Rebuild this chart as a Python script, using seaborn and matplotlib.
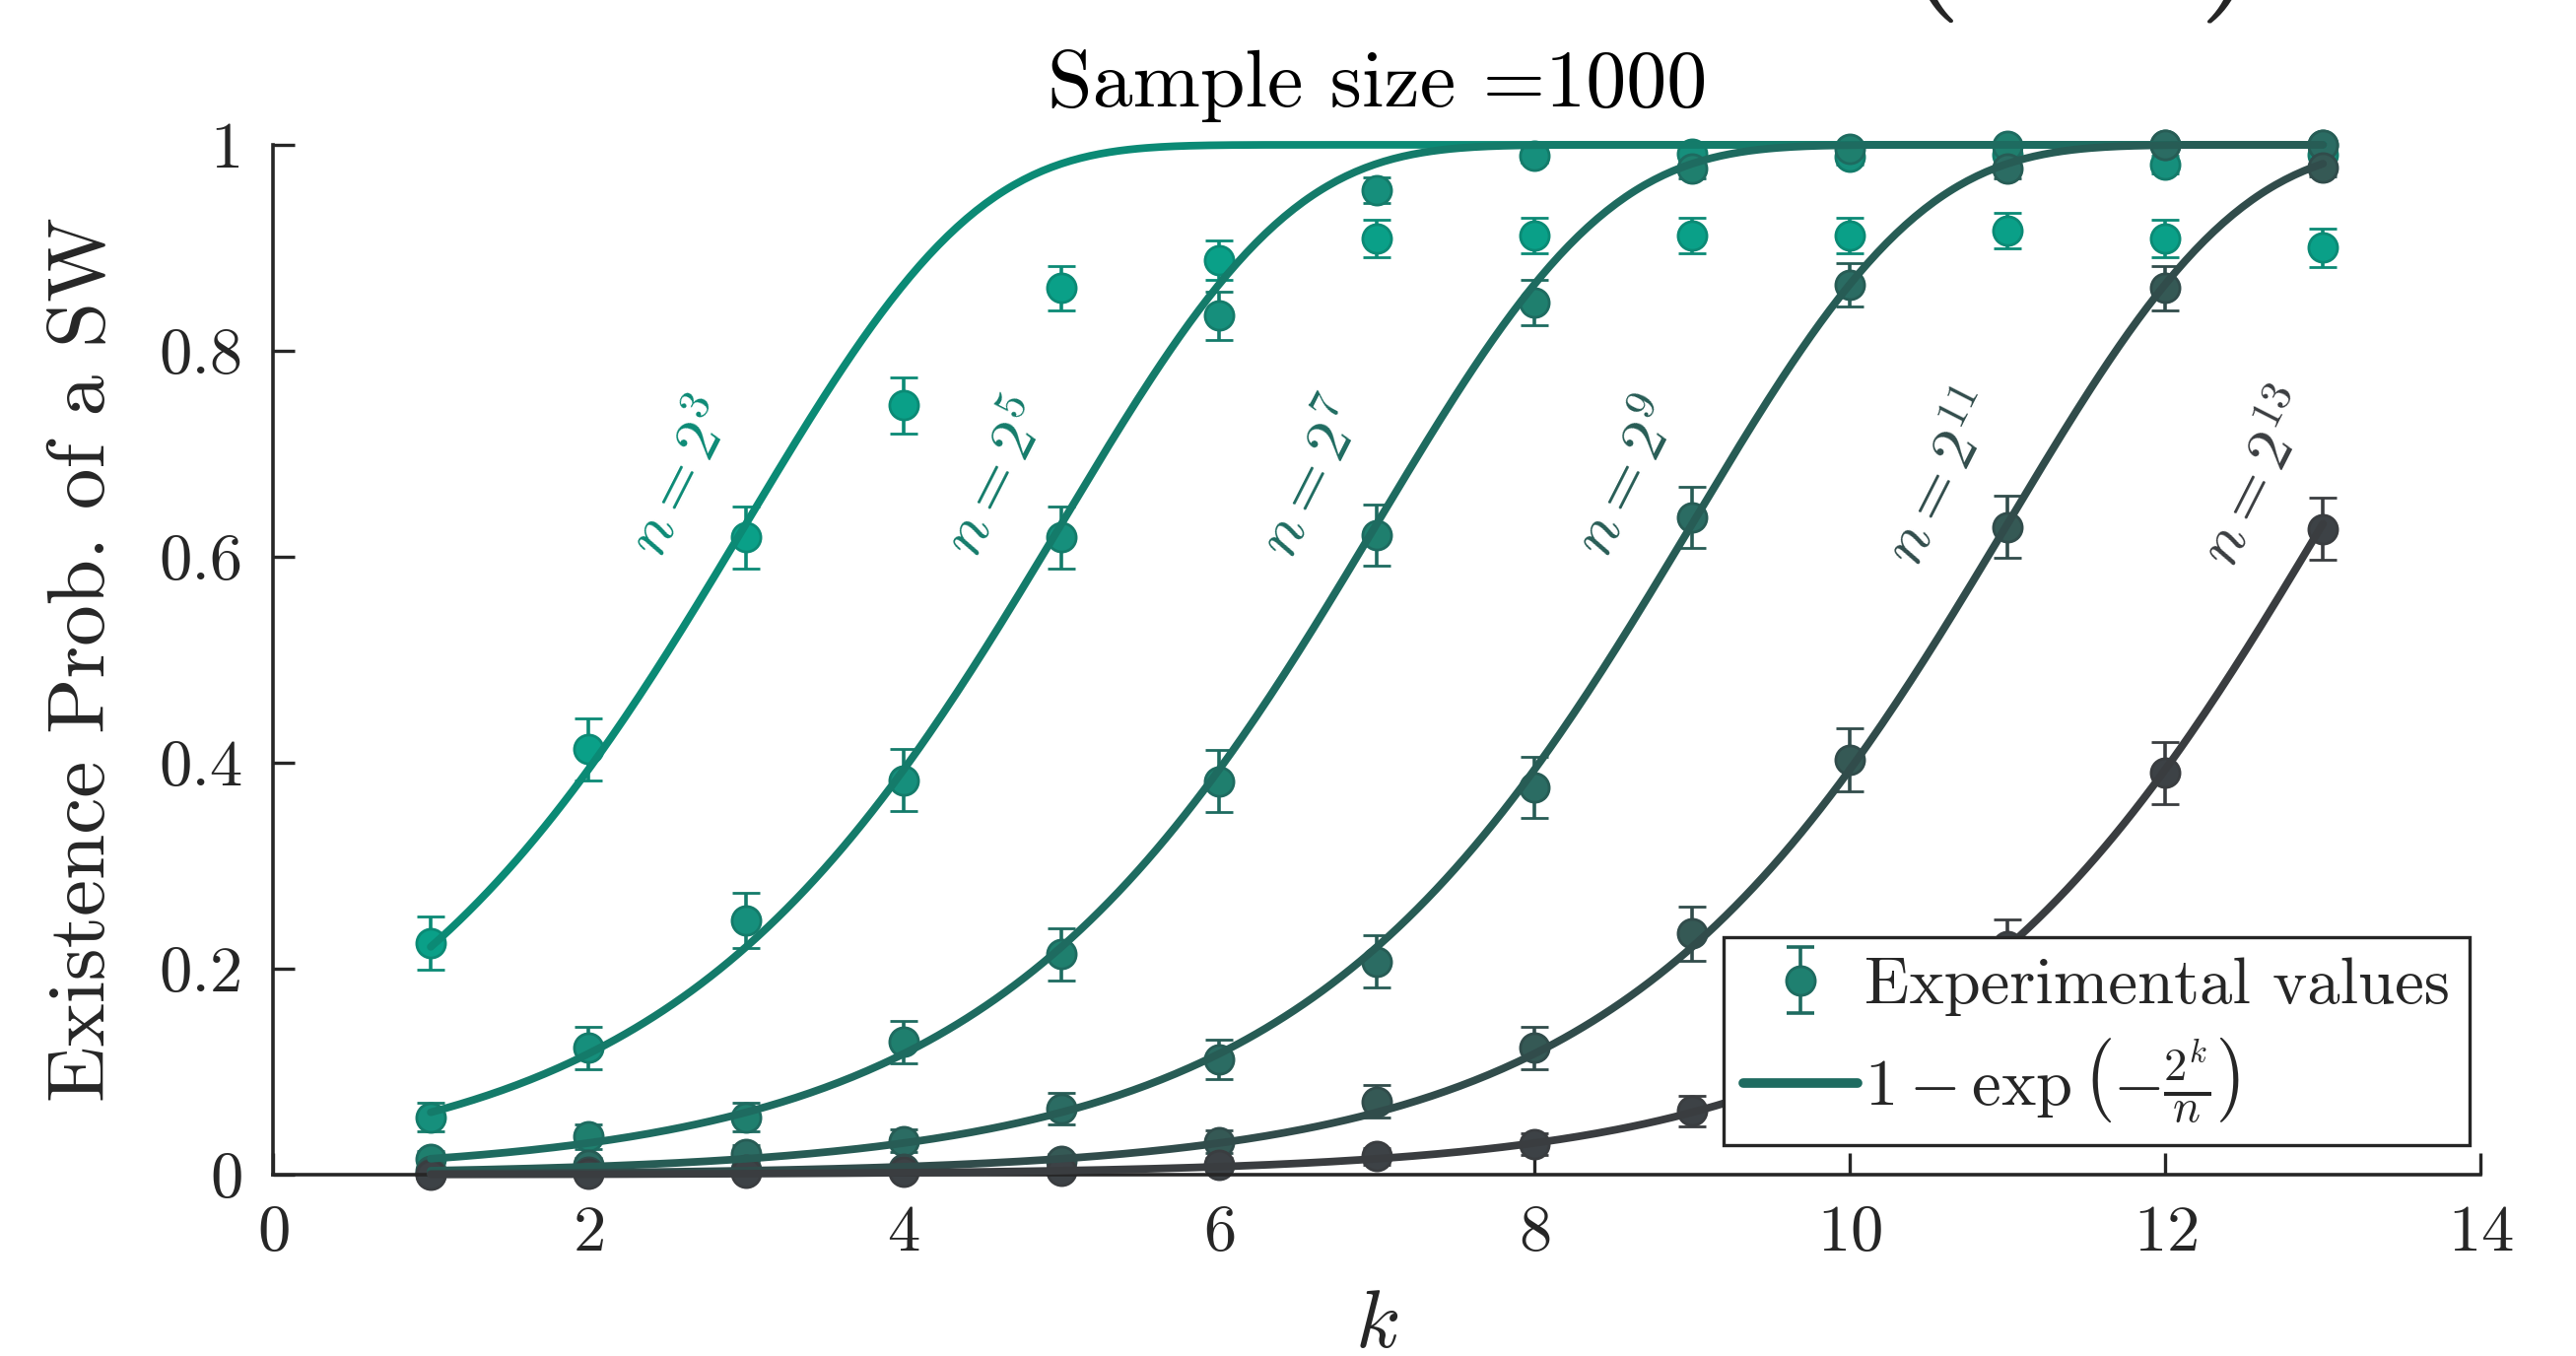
import numpy as np
import pandas as pd
import seaborn as sns
import matplotlib
matplotlib.use('Agg')
import matplotlib.pyplot as plt
from matplotlib.lines import Line2D

k_vals      = np.arange(1, 14)
n_exps      = [3, 5, 7, 9, 11, 13]
p_n8        = [0.225, 0.413, 0.619, 0.747, 0.861, 0.888, 0.909, 0.912, 0.912, 0.912, 0.917, 0.909, 0.900]
p_n32       = [0.056, 0.123, 0.247, 0.383, 0.619, 0.834, 0.956, 0.989, 0.991, 0.988, 0.990, 0.981, 0.990]
p_n128      = [0.015, 0.037, 0.056, 0.129, 0.214, 0.382, 0.621, 0.847, 0.977, 0.996, 0.999, 1.000, 1.000]
p_n512      = [0.004, 0.010, 0.020, 0.033, 0.064, 0.112, 0.207, 0.376, 0.638, 0.864, 0.977, 1.000, 1.000]
p_n2048     = [0.001, 0.003, 0.005, 0.006, 0.013, 0.032, 0.071, 0.123, 0.234, 0.403, 0.629, 0.861, 0.978]
p_n8192     = [0.000, 0.001, 0.002, 0.003, 0.004, 0.010, 0.018, 0.030, 0.062, 0.119, 0.222, 0.390, 0.627]
sample_size = 1000

exp_values  = [p_n8, p_n32, p_n128, p_n512, p_n2048, p_n8192]

line_colors = ['#0b8a75', '#147b6a', '#1e6b60', '#275c55', '#314c4b', '#3a3d40']
dot_colors  = ['#0aa088', '#168f7c', '#1f7f6e', '#2b6c63', '#355955', '#3d4246']

sns.set_theme(style='ticks')
plt.rcParams['font.family']        = ['serif']
plt.rcParams['font.serif']         = ['cmr10']
plt.rcParams['mathtext.fontset']   = 'cm'
plt.rcParams['axes.unicode_minus'] = False
plt.rcParams['axes.formatter.use_mathtext'] = True

fig = plt.figure(figsize=(13.07, 6.88), dpi=200)
ax  = fig.add_axes([0.106, 0.1337, 0.857, 0.7595])

# experimental points with 95% binomial intervals
for i, p in enumerate(exp_values):
    p   = np.array(p)
    err = 1.96 * np.sqrt(p * (1 - p) / sample_size)
    eb  = ax.errorbar(k_vals, p, yerr=err, fmt='o', ms=10.5, mfc=dot_colors[i], mec=line_colors[i], mew=1,
                      ecolor=line_colors[i], elinewidth=1.3, capsize=5, capthick=1.3, zorder=2 + i * 0.01)
    for art in eb.get_children():
        art.set_clip_on(False)

# theoretical curves 1 - exp(-2^k / n)
k_fine = np.linspace(1, 13, 400)
curves = []
for e in n_exps:
    curves.append(pd.DataFrame({'k': k_fine, 'p': 1 - np.exp(-2.0 ** k_fine / 2.0 ** e), 'n': e}))
df = pd.concat(curves, ignore_index=True)
sns.lineplot(data=df, x='k', y='p', hue='n', palette=dict(zip(n_exps, line_colors)),
             linewidth=2.8, legend=False, ax=ax, zorder=3)
for ln in ax.lines:
    ln.set_clip_on(False)

for i, e in enumerate(n_exps):
    ax.text(2.6 + 2 * i, 0.675, f'$n = 2^{{{e}}}$', rotation=63, color=line_colors[i], fontsize=23,
            ha='center', va='center', rotation_mode='anchor')

ax.set_xlim(0, 14)
ax.set_ylim(0, 1)
ax.set_xticks(np.arange(0, 15, 2))
ax.set_yticks([0, 0.2, 0.4, 0.6, 0.8, 1])
ax.set_yticklabels(['0', '0.2', '0.4', '0.6', '0.8', '1'])
ax.tick_params(direction='in', length=8, width=1.2, labelsize=24, pad=11, colors='#262626')
sns.despine(ax=ax)
for s in ['left', 'bottom']:
    ax.spines[s].set_linewidth(1.3)
    ax.spines[s].set_color('#262626')

ax.set_ylabel('Existence Prob. of a SW', fontsize=30, labelpad=14, color='#262626')
ax.set_xlabel('$k$', fontsize=30, labelpad=10, color='#262626')
ax.set_title('Sample size =1000', fontsize=29.5, pad=14, color='black')

# legend proxies
h_exp = ax.errorbar([np.nan], [np.nan], yerr=[np.nan], fmt='o', ms=10.5, mfc='#1f8070', mec='#1e6b60',
                    ecolor='#1e6b60', elinewidth=1.3, capsize=5, capthick=1.3)
h_fit = Line2D([], [], color='#1e6b60', linewidth=3.5)
leg = ax.legend(handles=[h_exp, h_fit],
                labels=['Experimental values', r'$1-\exp\left(-\frac{2^k}{n}\right)$'],
                loc='lower right', bbox_to_anchor=(0.995, 0.029), borderaxespad=0, fontsize=24,
                frameon=True, fancybox=False, framealpha=1, edgecolor='#262626',
                handlelength=1.75, handletextpad=0.1, borderpad=0.3, labelspacing=0.3)
leg.get_frame().set_linewidth(1.2)
leg.set_zorder(10)

# bottom tips of a larger heading that is cut off by the top edge
fig.text(1952 / 2614, 1 - 25 / 1376, '$($', fontsize=64, ha='center', va='bottom')
fig.text(2256 / 2614, 1 - 25 / 1376, '$)$', fontsize=64, ha='center', va='bottom')

fig.savefig('out.png', dpi=200)
